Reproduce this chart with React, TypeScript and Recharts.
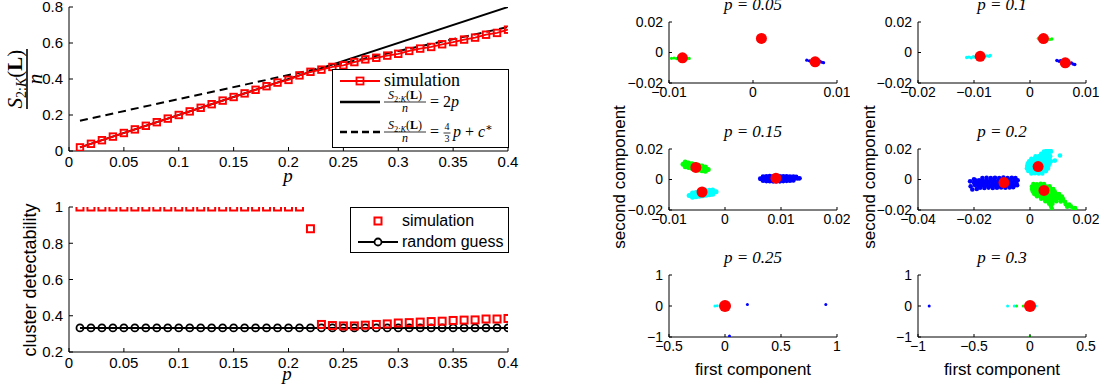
import React from 'react';
import { ComposedChart, Line, XAxis, YAxis, Legend, ScatterChart, Scatter } from 'recharts';

const SANS = "'Liberation Sans', Arial, Helvetica, sans-serif";
const SERIF = "'Liberation Serif', 'DejaVu Serif', 'Times New Roman', serif";

// ---------------- left panels data ----------------
const pValues = [0.01, 0.02, 0.03, 0.04, 0.05, 0.06, 0.07, 0.08, 0.09, 0.10, 0.11, 0.12, 0.13, 0.14, 0.15, 0.16, 0.17, 0.18, 0.19, 0.20, 0.21, 0.22, 0.23, 0.24, 0.25, 0.26, 0.27, 0.28, 0.29, 0.30, 0.31, 0.32, 0.33, 0.34, 0.35, 0.36, 0.37, 0.38, 0.39, 0.40];
const simNormalizedSize = [0.02, 0.04, 0.06, 0.08, 0.10, 0.12, 0.14, 0.16, 0.18, 0.20, 0.22, 0.24, 0.26, 0.28, 0.30, 0.32, 0.34, 0.36, 0.38, 0.395, 0.42, 0.44, 0.452, 0.467, 0.476, 0.494, 0.509, 0.518, 0.53, 0.54, 0.556, 0.569, 0.578, 0.593, 0.605, 0.619, 0.63, 0.646, 0.656, 0.674];
const linearP = [0.01, 0.4];
const linearValues = [0.02, 0.8];
const affineP = [0.01, 0.4];
const affineValues = [0.1683, 0.6883];
const simDetectability = [1, 1, 1, 1, 1, 1, 1, 1, 1, 1, 1, 1, 1, 1, 1, 1, 1, 1, 1, 1, 1, 0.88, 0.352, 0.346, 0.344, 0.344, 0.348, 0.352, 0.355, 0.36, 0.362, 0.365, 0.368, 0.37, 0.374, 0.376, 0.377, 0.382, 0.382, 0.385];
const randomGuess = [0.333, 0.333, 0.333, 0.333, 0.333, 0.333, 0.333, 0.333, 0.333, 0.333, 0.333, 0.333, 0.333, 0.333, 0.333, 0.333, 0.333, 0.333, 0.333, 0.333, 0.333, 0.333, 0.333, 0.333, 0.333, 0.333, 0.333, 0.333, 0.333, 0.333, 0.333, 0.333, 0.333, 0.333, 0.333, 0.333, 0.333, 0.333, 0.333, 0.333];
const pTicks = [0, 0.05, 0.1, 0.15, 0.2, 0.25, 0.3, 0.35, 0.4];
const sizeTicks = [0, 0.2, 0.4, 0.6, 0.8];
const detectTicks = [0.2, 0.4, 0.6, 0.8, 1];

// ---------------- scatter panels data ----------------
type Pt = [number, number];
const green05: Pt[] = [[-0.0097, -0.0038], [-0.0094, -0.0036], [-0.0091, -0.004], [-0.0088, -0.0037], [-0.0085, -0.0041], [-0.0082, -0.0038], [-0.0079, -0.0041], [-0.0076, -0.0039]];
const blue05: Pt[] = [[0.0064, -0.005], [0.0067, -0.0054], [0.007, -0.0055], [0.0073, -0.0059], [0.0076, -0.006], [0.0079, -0.0063], [0.0082, -0.0064], [0.0084, -0.0067], [0.0069, -0.006], [0.008, -0.0058]];
const red05: Pt[] = [[-0.0084, -0.0035], [0.001, 0.0092], [0.0074, -0.0061]];

const cyan10: Pt[] = [[-0.0113, -0.0033], [-0.0109, -0.003], [-0.0105, -0.0034], [-0.0101, -0.0028], [-0.0097, -0.0032], [-0.0093, -0.0026], [-0.0089, -0.003], [-0.0085, -0.0024], [-0.0081, -0.0028], [-0.0077, -0.0022], [-0.0073, -0.0025], [-0.0071, -0.002]];
const green10: Pt[] = [[0.0015, 0.0092], [0.0019, 0.0088], [0.0023, 0.0094], [0.0027, 0.0087], [0.0031, 0.0091], [0.0035, 0.0086], [0.0039, 0.0089]];
const blue10: Pt[] = [[0.0048, -0.0052], [0.0052, -0.0057], [0.0055, -0.0053], [0.0058, -0.0061], [0.0062, -0.0058], [0.0065, -0.0066], [0.0068, -0.0062], [0.0071, -0.0071], [0.0074, -0.0068], [0.0077, -0.0076], [0.008, -0.0079]];
const red10: Pt[] = [[-0.0089, -0.0025], [0.0024, 0.0091], [0.0063, -0.0068]];

const green15: Pt[] = [
  [-0.0075, 0.01], [-0.0069, 0.0095], [-0.0063, 0.0091], [-0.0057, 0.0086], [-0.0051, 0.0081], [-0.0045, 0.0077], [-0.0039, 0.0072], [-0.0033, 0.0067], [-0.003, 0.0065],
  [-0.0071, 0.0114], [-0.0065, 0.0109], [-0.0059, 0.0104], [-0.0053, 0.0099], [-0.0047, 0.0094], [-0.0041, 0.0089], [-0.0035, 0.0082],
  [-0.0071, 0.0084], [-0.0065, 0.0078], [-0.0059, 0.0073], [-0.0053, 0.0067], [-0.0047, 0.0062], [-0.0041, 0.0058], [-0.0035, 0.0054]];
const cyan15: Pt[] = [
  [-0.0064, -0.0105], [-0.0058, -0.0102], [-0.0052, -0.0099], [-0.0046, -0.0096], [-0.004, -0.0092], [-0.0034, -0.0089], [-0.0028, -0.0086], [-0.0022, -0.0083], [-0.0016, -0.008],
  [-0.0058, -0.0088], [-0.0052, -0.0085], [-0.0046, -0.0081], [-0.004, -0.0077], [-0.0034, -0.0074], [-0.0028, -0.0071], [-0.0022, -0.0069],
  [-0.0058, -0.0116], [-0.0052, -0.0113], [-0.0046, -0.011], [-0.004, -0.0107], [-0.0034, -0.0104], [-0.0028, -0.01], [-0.0022, -0.0097]];
const blue15: Pt[] = [
  [0.0063, 0.0005], [0.0069, 0.0004], [0.0075, 0.0006], [0.0081, 0.0005], [0.0087, 0.0004], [0.0093, 0.0006], [0.0099, 0.0005], [0.0105, 0.0004], [0.0111, 0.0006], [0.0117, 0.0005], [0.0123, 0.0006], [0.0129, 0.0007], [0.0133, 0.0008],
  [0.0068, 0.0019], [0.0074, 0.0021], [0.008, 0.0022], [0.0086, 0.0021], [0.0092, 0.0022], [0.0098, 0.002], [0.0104, 0.0021], [0.011, 0.002], [0.0116, 0.0019], [0.0122, 0.0018], [0.0127, 0.0017],
  [0.0068, -0.0008], [0.0074, -0.001], [0.008, -0.0011], [0.0086, -0.0012], [0.0092, -0.0011], [0.0098, -0.0012], [0.0104, -0.001], [0.011, -0.0009], [0.0116, -0.0008], [0.0122, -0.0006]];
const red15: Pt[] = [[-0.0052, 0.0079], [-0.0041, -0.0082], [0.0091, 0.0009]];

const blue20: Pt[] = [
  [-0.017, 0.001], [-0.0155, 0.0011], [-0.014, 0.0009], [-0.0125, 0.0011], [-0.011, 0.001], [-0.0095, 0.0012], [-0.008, 0.001], [-0.0065, 0.0011], [-0.0052, 0.0009],
  [-0.0195, -0.0006], [-0.0182, -0.0005], [-0.0168, -0.0007], [-0.0154, -0.0006], [-0.014, -0.0005], [-0.0126, -0.0006], [-0.0112, -0.0007], [-0.0098, -0.0005], [-0.0084, -0.0006], [-0.007, -0.0004], [-0.0056, -0.0006], [-0.0044, -0.0005],
  [-0.02, -0.0022], [-0.0188, -0.0021], [-0.0175, -0.0023], [-0.0161, -0.0022], [-0.0147, -0.0021], [-0.0133, -0.0023], [-0.0119, -0.0022], [-0.0105, -0.0021], [-0.0091, -0.0022], [-0.0077, -0.0023], [-0.0063, -0.0021], [-0.0049, -0.0022],
  [-0.0196, -0.0038], [-0.0183, -0.0039], [-0.0169, -0.0037], [-0.0155, -0.0038], [-0.0141, -0.004], [-0.0127, -0.0038], [-0.0113, -0.0037], [-0.0099, -0.0039], [-0.0085, -0.0038], [-0.0071, -0.0036], [-0.0057, -0.0038], [-0.0046, -0.0037],
  [-0.0178, -0.0054], [-0.0163, -0.0055], [-0.0148, -0.0053], [-0.0133, -0.0055], [-0.0118, -0.0054], [-0.0103, -0.0052], [-0.0088, -0.0054], [-0.0073, -0.0052], [-0.006, -0.005],
  [-0.0214, -0.0012], [-0.0212, -0.0045], [-0.0206, -0.0066], [-0.02, 0.0002], [-0.019, -0.0062]];
const cyan20: Pt[] = [
  [0.0005, 0.004], [0.0018, 0.0041], [0.0031, 0.0039], [0.0044, 0.004],
  [-0.0006, 0.0056], [0.0007, 0.0057], [0.002, 0.0055], [0.0033, 0.0056], [0.0046, 0.0057], [0.0057, 0.0055],
  [-0.0011, 0.0072], [0.0002, 0.0073], [0.0015, 0.0071], [0.0028, 0.0072], [0.0041, 0.0073], [0.0054, 0.0071], [0.0064, 0.0072],
  [-0.001, 0.0088], [0.0003, 0.0089], [0.0016, 0.0087], [0.0029, 0.0088], [0.0042, 0.0089], [0.0055, 0.0087], [0.0066, 0.0088],
  [-0.0008, 0.0104], [0.0005, 0.0105], [0.0018, 0.0103], [0.0031, 0.0104], [0.0044, 0.0105], [0.0057, 0.0103], [0.007, 0.0104],
  [-0.0003, 0.012], [0.001, 0.0121], [0.0023, 0.0119], [0.0036, 0.012], [0.0049, 0.0121], [0.0062, 0.0119], [0.0075, 0.012], [0.0089, 0.0124],
  [0.0005, 0.0136], [0.0018, 0.0137], [0.0031, 0.0135], [0.0044, 0.0136], [0.0057, 0.0137], [0.007, 0.0135],
  [0.002, 0.0152], [0.0033, 0.0153], [0.0046, 0.0151], [0.0059, 0.0152], [0.0072, 0.0153], [0.0107, 0.0157],
  [0.004, 0.0168], [0.0053, 0.0169], [0.0066, 0.0167],
  [0.005, 0.0184], [0.0063, 0.0185], [0.0075, 0.0183],
  [0.006, 0.0198], [0.0072, 0.0199]];
const green20: Pt[] = [
  [0.0012, -0.003], [0.0025, -0.0031], [0.0038, -0.0029], [0.005, -0.003],
  [0.0007, -0.0046], [0.002, -0.0047], [0.0033, -0.0045], [0.0046, -0.0046], [0.0059, -0.0047], [0.007, -0.0045],
  [0.0007, -0.0062], [0.002, -0.0063], [0.0033, -0.0061], [0.0046, -0.0062], [0.0059, -0.0063], [0.0072, -0.0061], [0.0083, -0.0062],
  [0.001, -0.0078], [0.0023, -0.0079], [0.0036, -0.0077], [0.0049, -0.0078], [0.0062, -0.0079], [0.0075, -0.0077], [0.0088, -0.0078],
  [0.0015, -0.0094], [0.0028, -0.0095], [0.0041, -0.0093], [0.0054, -0.0094], [0.0067, -0.0095], [0.008, -0.0093], [0.0093, -0.0094], [0.0104, -0.0096],
  [0.0025, -0.011], [0.0038, -0.0111], [0.0051, -0.0109], [0.0064, -0.011], [0.0077, -0.0111], [0.009, -0.0109], [0.0103, -0.011], [0.0114, -0.0112],
  [0.004, -0.0126], [0.0053, -0.0127], [0.0066, -0.0125], [0.0079, -0.0126], [0.0092, -0.0127], [0.0105, -0.0125], [0.0118, -0.0128],
  [0.0055, -0.0142], [0.0068, -0.0143], [0.0081, -0.0141], [0.0094, -0.0142], [0.011, -0.0144], [0.0125, -0.0146],
  [0.0068, -0.0158], [0.008, -0.0159], [0.0128, -0.0162], [0.014, -0.0165],
  [0.0075, -0.0174], [0.0133, -0.0178], [0.0146, -0.0176],
  [0.0078, -0.019], [0.0155, -0.0192], [0.0161, -0.0188]];
const red20: Pt[] = [[-0.0093, -0.002], [0.0029, 0.0085], [0.005, -0.0072]];

const cyan25: Pt[] = [[-0.09, 0.0], [-0.07, 0.01], [0.04, -0.01]];
const blue25: Pt[] = [[0.2, 0.05], [0.9, 0.05], [0.04, -0.97]];
const red25: Pt[] = [[0, 0]];

const blue30: Pt[] = [[-0.9, 0]];
const cyan30: Pt[] = [[-0.2, 0], [-0.14, 0], [0.05, 0]];
const green30: Pt[] = [[-0.12, 0], [-0.06, 0], [0, -0.98]];
const red30: Pt[] = [[0, 0]];

const BLUE = '#0000ff';
const CYAN = '#00ffff';
const GREEN = '#00ff00';
const RED = '#ff0000';

// ---------------- helpers ----------------
const fmt = (v: number) => String(v).replace('-', '\u2212');

function mkTick(side: string, len: number, label: boolean, fs: number, gap: number) {
  return (props: any) => {
    const { x, y, payload } = props;
    const t = fmt(payload.value);
    if (side === 'bottom') {
      return (
        <g>
          <line x1={x} y1={y} x2={x} y2={y - len} stroke="#000" strokeWidth={1} />
          {label && <text x={x} y={y + gap} textAnchor="middle" fontFamily={SANS} fontSize={fs} fill="#000">{t}</text>}
        </g>
      );
    }
    if (side === 'top') {
      return <g><line x1={x} y1={y} x2={x} y2={y + len} stroke="#000" strokeWidth={1} /></g>;
    }
    if (side === 'left') {
      return (
        <g>
          <line x1={x} y1={y} x2={x + len} y2={y} stroke="#000" strokeWidth={1} />
          {label && <text x={x - gap} y={y} dy="0.35em" textAnchor="end" fontFamily={SANS} fontSize={fs} fill="#000">{t}</text>}
        </g>
      );
    }
    return <g><line x1={x} y1={y} x2={x - len} y2={y} stroke="#000" strokeWidth={1} /></g>;
  };
}

const squareDot = (size: number, sw: number) => (props: any) => {
  const { cx, cy, index } = props;
  if (cx == null || cy == null) return <g key={`e${index}`} />;
  return <rect key={`s${index}`} x={cx - size / 2} y={cy - size / 2} width={size} height={size} fill="none" stroke={RED} strokeWidth={sw} />;
};
const circleDot = (r: number, sw: number) => (props: any) => {
  const { cx, cy, index } = props;
  if (cx == null || cy == null) return <g key={`e${index}`} />;
  return <circle key={`c${index}`} cx={cx} cy={cy} r={r} fill="none" stroke="#000" strokeWidth={sw} />;
};

function SmallFrac({ x, y, fs }: { x: number; y: number; fs: number }) {
  return (
    <g fontFamily={SERIF}>
      <text x={x} y={y - 3} textAnchor="middle" fontSize={fs} fontFamily={SERIF}>
        <tspan fontStyle="italic">S</tspan>
        <tspan fontSize={fs * 0.7} dy={fs * 0.25}>2:<tspan fontStyle="italic">K</tspan></tspan>
        <tspan dy={-fs * 0.25}>(</tspan>
        <tspan fontWeight="bold">L</tspan>
        <tspan>)</tspan>
      </text>
      <line x1={x - 21} x2={x + 21} y1={y} y2={y} stroke="#000" strokeWidth={0.8} />
      <text x={x} y={y + fs * 0.85} textAnchor="middle" fontSize={fs} fontStyle="italic" fontFamily={SERIF}>n</text>
    </g>
  );
}

function LegendA() {
  return (
    <svg width={178} height={80} style={{ display: 'block' }}>
      <rect x={0.5} y={0.5} width={176} height={78} fill="#fff" stroke="#000" strokeWidth={1} />
      <line x1={8} x2={48} y1={12} y2={12} stroke={RED} strokeWidth={2} />
      <rect x={24.5} y={8.5} width={7} height={7} fill="none" stroke={RED} strokeWidth={1.8} />
      <text x={52} y={17} fontFamily={SERIF} fontSize={18}>simulation</text>

      <line x1={8} x2={48} y1={33} y2={33} stroke="#000" strokeWidth={2.5} />
      <SmallFrac x={73} y={33} fs={12} />
      <text x={98} y={38} fontFamily={SERIF} fontSize={16}>= 2<tspan fontStyle="italic">p</tspan></text>

      <line x1={8} x2={48} y1={63} y2={63} stroke="#000" strokeWidth={2.5} strokeDasharray="7 4" />
      <SmallFrac x={73} y={63} fs={12} />
      <text x={98} y={68} fontFamily={SERIF} fontSize={16}>=</text>
      <text x={115} y={61} fontFamily={SERIF} fontSize={10} textAnchor="middle">4</text>
      <line x1={111.5} x2={118.5} y1={64} y2={64} stroke="#000" strokeWidth={0.8} />
      <text x={115} y={73} fontFamily={SERIF} fontSize={10} textAnchor="middle">3</text>
      <text x={121} y={68} fontFamily={SERIF} fontSize={16}>
        <tspan fontStyle="italic">p</tspan> + <tspan fontStyle="italic">c</tspan>
        <tspan fontSize={11} dy={-6}>∗</tspan>
      </text>
    </svg>
  );
}

function LegendB() {
  return (
    <svg width={160} height={47} style={{ display: 'block' }}>
      <rect x={0.5} y={0.5} width={158} height={45} fill="#fff" stroke="#000" strokeWidth={1} />
      <rect x={24.5} y={10.5} width={7} height={7} fill="none" stroke={RED} strokeWidth={2} />
      <text x={52} y={19} fontFamily={SANS} fontSize={16}>simulation</text>
      <line x1={8} x2={48} y1={35} y2={35} stroke="#000" strokeWidth={2} />
      <circle cx={28} cy={35} r={3.5} fill="#fff" stroke="#000" strokeWidth={1.8} />
      <text x={52} y={40} fontFamily={SANS} fontSize={16}>random guess</text>
    </svg>
  );
}

// ---------------- left charts ----------------
function SizeChart() {
  const simRows = pValues.map((p, i) => ({ p, v: simNormalizedSize[i] }));
  const linRows = linearP.map((p, i) => ({ p, v: linearValues[i] }));
  const affRows = affineP.map((p, i) => ({ p, v: affineValues[i] }));
  return (
    <div style={{ position: 'absolute', left: 0, top: 0 }}>
      <ComposedChart width={520} height={188} margin={{ top: 7, right: 12, bottom: 0, left: 0 }}>
        <XAxis dataKey="p" type="number" domain={[0, 0.4]} ticks={pTicks} allowDataOverflow interval={0}
          height={37} tickSize={0} tickMargin={0} tickLine={false} axisLine={{ stroke: '#000' }}
          tick={mkTick('bottom', 4, true, 15, 16)}
          label={() => <text x={288} y={182} fontFamily={SERIF} fontStyle="italic" fontSize={19} textAnchor="middle">p</text>} />
        <XAxis xAxisId="top" orientation="top" type="number" domain={[0, 0.4]} ticks={pTicks} allowDataOverflow interval={0}
          height={0} tickSize={0} tickMargin={0} tickLine={false} axisLine={{ stroke: '#000' }} tick={mkTick('top', 4, false, 14, 0)} />
        <YAxis type="number" domain={[0, 0.8]} ticks={sizeTicks} allowDataOverflow interval={0} width={69}
          tickSize={0} tickMargin={0} tickLine={false} axisLine={{ stroke: '#000' }} tick={mkTick('left', 4, true, 15, 6)}
          label={() => (
            <g transform="translate(27,79) rotate(-90)">
              <text x={0} y={-5} textAnchor="middle" fontSize={21} fontFamily={SERIF}>
                <tspan fontStyle="italic">S</tspan>
                <tspan fontSize={14} dy={4}>2:<tspan fontStyle="italic">K</tspan></tspan>
                <tspan dy={-4}>(</tspan>
                <tspan fontWeight="bold">L</tspan>
                <tspan>)</tspan>
              </text>
              <line x1={-30} x2={30} y1={0} y2={0} stroke="#000" strokeWidth={1.6} />
              <text x={0} y={15} textAnchor="middle" fontSize={21} fontStyle="italic" fontFamily={SERIF}>n</text>
            </g>
          )} />
        <YAxis yAxisId="right" orientation="right" type="number" domain={[0, 0.8]} ticks={sizeTicks} allowDataOverflow interval={0}
          width={0} tickSize={0} tickMargin={0} tickLine={false} axisLine={{ stroke: '#000' }} tick={mkTick('right', 4, false, 14, 0)} />
        <Line data={linRows} dataKey="v" stroke="#000" strokeWidth={2} dot={false} isAnimationActive={false} />
        <Line data={affRows} dataKey="v" stroke="#000" strokeWidth={2} strokeDasharray="8 5" dot={false} isAnimationActive={false} />
        <Line data={simRows} dataKey="v" stroke={RED} strokeWidth={1.8} dot={squareDot(6.5, 1.9)} isAnimationActive={false} />
        <Legend layout="vertical" align="center" verticalAlign="middle"
          wrapperStyle={{ left: 332, top: 69, width: 178, height: 80 }} content={() => <LegendA />} />
      </ComposedChart>
    </div>
  );
}

function DetectChart() {
  const simRows = pValues.map((p, i) => ({ p, v: simDetectability[i] }));
  const randRows = pValues.map((p, i) => ({ p, v: randomGuess[i] }));
  return (
    <div style={{ position: 'absolute', left: 0, top: 180 }}>
      <ComposedChart width={520} height={209} margin={{ top: 27, right: 12, bottom: 0, left: 0 }}>
        <XAxis dataKey="p" type="number" domain={[0, 0.4]} ticks={pTicks} allowDataOverflow interval={0}
          height={37} tickSize={0} tickMargin={0} tickLine={false} axisLine={{ stroke: '#000' }}
          tick={mkTick('bottom', 4, true, 15, 16)}
          label={() => <text x={287} y={200} fontFamily={SERIF} fontStyle="italic" fontSize={19} textAnchor="middle">p</text>} />
        <XAxis xAxisId="top" orientation="top" type="number" domain={[0, 0.4]} ticks={pTicks} allowDataOverflow interval={0}
          height={0} tickSize={0} tickMargin={0} tickLine={false} axisLine={{ stroke: '#000' }} tick={mkTick('top', 4, false, 14, 0)} />
        <YAxis type="number" domain={[0.2, 1]} ticks={detectTicks} allowDataOverflow interval={0} width={69}
          tickSize={0} tickMargin={0} tickLine={false} axisLine={{ stroke: '#000' }} tick={mkTick('left', 4, true, 15, 6)}
          label={() => (
            <text transform="translate(36,100) rotate(-90)" textAnchor="middle" fontFamily={SANS} fontSize={18}>cluster detectability</text>
          )} />
        <YAxis yAxisId="right" orientation="right" type="number" domain={[0.2, 1]} ticks={detectTicks} allowDataOverflow interval={0}
          width={0} tickSize={0} tickMargin={0} tickLine={false} axisLine={{ stroke: '#000' }} tick={mkTick('right', 4, false, 14, 0)} />
        <Line data={randRows} dataKey="v" stroke="#000" strokeWidth={2} dot={circleDot(3.5, 1.8)} isAnimationActive={false} />
        <Line data={simRows} dataKey="v" stroke="none" dot={squareDot(7, 2)} isAnimationActive={false} />
        <Legend layout="vertical" align="center" verticalAlign="middle"
          wrapperStyle={{ left: 350, top: 27, width: 160, height: 47 }} content={() => <LegendB />} />
      </ComposedChart>
    </div>
  );
}

// ---------------- scatter panels ----------------
type Layer = { pts: Pt[]; color: string; r: number };

function ScatterPanel(props: {
  plotLeft: number; plotTop: number; plotW: number; plotH: number; mt: number;
  xDomain: [number, number]; xTicks: number[]; yDomain: [number, number]; yTicks: number[];
  title: string; layers: Layer[]; xLabel?: boolean; yLabel?: number;
}) {
  const { plotLeft, plotTop, plotW, plotH, mt, xDomain, xTicks, yDomain, yTicks, title, layers, xLabel, yLabel } = props;
  const yw = 69, mr = 13, xh = 45;
  const W = yw + plotW + mr, H = mt + plotH + xh;
  const cx = yw + plotW / 2;
  return (
    <div style={{ position: 'absolute', left: plotLeft - yw, top: plotTop - mt }}>
      <ScatterChart width={W} height={H} margin={{ top: mt, right: mr, bottom: 0, left: 0 }}>
        <XAxis dataKey="x" type="number" domain={xDomain} ticks={xTicks} allowDataOverflow interval={0}
          height={xh} tickSize={0} tickMargin={0} tickLine={false} axisLine={{ stroke: '#000' }}
          tick={mkTick('bottom', 3, true, 14, 14)}
          label={() => (
            <g>
              <text x={cx} y={mt - 12} textAnchor="middle" fontFamily={SERIF} fontStyle="italic" fontSize={17}>{title}</text>
              {xLabel && <text x={cx} y={mt + plotH + 38} textAnchor="middle" fontFamily={SANS} fontSize={17}>first component</text>}
            </g>
          )} />
        <YAxis dataKey="y" type="number" domain={yDomain} ticks={yTicks} allowDataOverflow interval={0} width={yw}
          tickSize={0} tickMargin={0} tickLine={false} axisLine={{ stroke: '#000' }} tick={mkTick('left', 3, true, 14, 6)}
          label={() => (yLabel != null ? (
            <text transform={`translate(${yLabel},${mt + 28}) rotate(-90)`} textAnchor="middle" fontFamily={SANS} fontSize={17}>second component</text>
          ) : <g />)} />
        {layers.map((l, i) => (
          <Scatter key={i} data={l.pts.map(([x, y]) => ({ x, y }))} isAnimationActive={false}
            shape={(p: any) => <circle cx={p.cx} cy={p.cy} r={l.r} fill={l.color} />} />
        ))}
      </ScatterChart>
    </div>
  );
}

export default function App() {
  const ySmall: [number, number] = [-0.02, 0.02];
  const ySmallTicks = [-0.02, 0, 0.02];
  const yBig: [number, number] = [-1, 1];
  const yBigTicks = [-1, 0, 1];
  return (
    <div style={{ position: 'absolute', left: 0, top: 0, width: 1104, height: 389, background: '#fff', overflow: 'hidden' }}>
      <SizeChart />
      <DetectChart />
      <ScatterPanel plotLeft={669} plotTop={22} plotW={168} plotH={61} mt={22}
        xDomain={[-0.01, 0.01]} xTicks={[-0.01, 0, 0.01]} yDomain={ySmall} yTicks={ySmallTicks} title="p = 0.05"
        layers={[{ pts: green05, color: GREEN, r: 1.6 }, { pts: blue05, color: BLUE, r: 1.6 }, { pts: red05, color: RED, r: 5.5 }]} />
      <ScatterPanel plotLeft={918} plotTop={22} plotW={168} plotH={61} mt={22}
        xDomain={[-0.02, 0.01]} xTicks={[-0.02, -0.01, 0, 0.01]} yDomain={ySmall} yTicks={ySmallTicks} title="p = 0.1"
        layers={[{ pts: cyan10, color: CYAN, r: 1.7 }, { pts: green10, color: GREEN, r: 1.7 }, { pts: blue10, color: BLUE, r: 1.7 }, { pts: red10, color: RED, r: 5.5 }]} />
      <ScatterPanel plotLeft={669} plotTop={149} plotW={168} plotH={61} mt={50} yLabel={25}
        xDomain={[-0.01, 0.02]} xTicks={[-0.01, 0, 0.01, 0.02]} yDomain={ySmall} yTicks={ySmallTicks} title="p = 0.15"
        layers={[{ pts: green15, color: GREEN, r: 2.5 }, { pts: cyan15, color: CYAN, r: 2.5 }, { pts: blue15, color: BLUE, r: 2.4 }, { pts: red15, color: RED, r: 5.5 }]} />
      <ScatterPanel plotLeft={918} plotTop={149} plotW={168} plotH={61} mt={50} yLabel={26}
        xDomain={[-0.04, 0.02]} xTicks={[-0.04, -0.02, 0, 0.02]} yDomain={ySmall} yTicks={ySmallTicks} title="p = 0.2"
        layers={[{ pts: blue20, color: BLUE, r: 2.3 }, { pts: cyan20, color: CYAN, r: 2.3 }, { pts: green20, color: GREEN, r: 2.3 }, { pts: red20, color: RED, r: 5.5 }]} />
      <ScatterPanel plotLeft={669} plotTop={275} plotW={168} plotH={62} mt={40} xLabel
        xDomain={[-0.5, 1]} xTicks={[-0.5, 0, 0.5, 1]} yDomain={yBig} yTicks={yBigTicks} title="p = 0.25"
        layers={[{ pts: cyan25, color: CYAN, r: 1.5 }, { pts: blue25, color: BLUE, r: 1.5 }, { pts: red25, color: RED, r: 6 }]} />
      <ScatterPanel plotLeft={918} plotTop={275} plotW={168} plotH={62} mt={40} xLabel
        xDomain={[-1, 0.5]} xTicks={[-1, -0.5, 0, 0.5]} yDomain={yBig} yTicks={yBigTicks} title="p = 0.3"
        layers={[{ pts: blue30, color: BLUE, r: 1.5 }, { pts: cyan30, color: CYAN, r: 1.5 }, { pts: green30, color: GREEN, r: 1.5 }, { pts: red30, color: RED, r: 6 }]} />
    </div>
  );
}
